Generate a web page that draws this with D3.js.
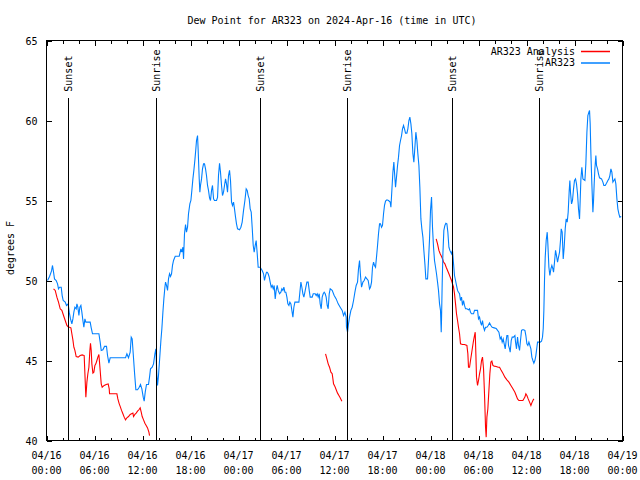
<!DOCTYPE html>
<html><head><meta charset="utf-8">
<script src="https://cdn.jsdelivr.net/npm/d3@7"></script>
<style>
body{margin:0;background:#fff}
svg{display:block}
text{font-family:"DejaVu Sans Mono",monospace;font-size:10px;fill:#000}
</style>
</head><body>
<svg id="c" width="640" height="480"></svg>
<script>
// ---------------- DATA ----------------
const titleText = "Dew Point for AR323 on 2024-Apr-16 (time in UTC)";
const yLabel = "degrees F";
const seriesNames = ["AR323 Analysis", "AR323"];
const seriesColors = ["#ff0000", "#0080ff"];
const startUTC = Date.UTC(2024, 3, 16, 0, 0);
const endHours = 72;
const yTicks = [40, 45, 50, 55, 60, 65];
const sunLabels = ["Sunset", "Sunrise", "Sunset", "Sunrise", "Sunset", "Sunrise"];
const sunHours = [2.7, 13.63, 26.63, 37.53, 50.63, 61.5];

// observed dew point: [hours since 04/16 00:00 UTC, deg F]
const ar323 = [
[0.13,50.0],[0.38,50.25],[0.63,50.6],[0.75,50.94],[0.88,50.52],[1.0,50.1],[1.21,50.0],[1.38,49.79],[1.5,49.48],[1.63,49.58],[1.84,49.58],[1.96,49.06],[2.09,48.75],[2.34,48.65],[2.5,48.44],[2.71,48.54],[2.84,48.02],[3.0,47.6],[3.17,47.29],[3.3,47.6],[3.42,48.02],[3.55,48.33],[3.71,48.23],[3.8,48.54],[3.92,48.33],[4.05,47.81],[4.17,48.33],[4.3,48.44],[4.42,48.02],[4.55,47.5],[4.67,47.08],[4.8,47.6],[4.92,47.4],[5.09,47.4],[5.46,47.4],[5.59,47.04],[5.75,46.67],[6.09,46.67],[6.55,46.67],[6.71,46.15],[6.84,45.63],[7.05,45.67],[7.25,45.88],[7.5,45.88],[7.63,45.31],[7.8,44.83],[7.96,45.17],[8.38,45.17],[9.21,45.17],[9.88,45.17],[10.05,45.42],[10.25,45.17],[10.46,45.52],[10.59,46.46],[10.71,46.35],[10.84,45.42],[11.0,44.27],[11.17,43.17],[11.38,43.17],[11.59,43.33],[11.75,43.5],[11.92,43.23],[12.09,42.71],[12.21,42.46],[12.34,43.02],[12.5,43.5],[12.75,43.5],[12.88,43.96],[13.0,44.48],[13.21,44.58],[13.38,44.79],[13.55,45.42],[13.67,45.73],
[13.8,44.06],[13.88,43.44],[14.0,44.06],[14.13,45.0],[14.3,46.25],[14.42,46.98],[14.55,48.02],[14.67,48.85],[14.8,49.58],[14.88,49.9],[15.0,49.69],[15.13,49.38],[15.25,50.1],[15.38,50.42],[15.5,50.25],[15.63,50.42],[15.75,50.94],[15.88,51.25],[16.09,51.52],[16.59,51.52],[16.8,51.98],[16.92,51.77],[17.05,52.08],[17.13,51.35],[17.25,52.92],[17.38,53.5],[17.5,53.02],[17.63,53.33],[17.75,54.17],[17.92,54.79],[18.05,55.0],[18.17,55.63],[18.3,56.35],[18.42,56.88],[18.55,57.54],[18.67,58.23],[18.75,58.75],[18.88,59.06],[18.96,58.13],[19.09,56.35],[19.17,55.52],[19.25,55.94],[19.38,56.35],[19.5,56.98],[19.63,57.29],[19.75,57.29],[19.88,56.98],[20.0,56.56],[20.13,55.94],[20.25,55.63],[20.38,55.17],[20.5,55.0],[20.63,55.63],[20.75,55.94],[20.88,55.1],[21.0,55.0],[21.25,55.0],[21.38,55.2],[21.5,56.56],[21.63,57.33],[21.75,56.77],[21.88,55.94],[22.0,55.31],[22.13,55.52],[22.25,55.94],[22.38,56.35],[22.5,56.04],[22.63,55.52],[22.75,56.56],[22.88,56.88],[23.0,56.25],[23.13,54.9],[23.25,54.69],[23.38,54.9],[23.5,54.48],[23.63,53.96],[23.75,53.54],[23.88,53.23],[24.13,53.17],[24.3,53.33],[24.46,53.65],[24.63,54.38],[24.8,55.0],[24.96,55.73],[25.09,55.63],[25.21,55.31],[25.34,55.1],[25.46,54.48],[25.59,54.27],[25.71,53.33],[25.84,52.19],[25.96,51.77],[26.09,52.19],[26.21,52.5],[26.34,51.67],[26.46,50.83],[26.71,50.83],[26.96,50.63],[27.13,50.42],[27.25,50.0],[27.38,50.31],[27.5,50.52],
[27.59,50.52],[27.71,50.42],[27.84,50.21],[27.96,49.9],[28.09,49.58],[28.21,49.69],[28.34,49.48],[28.46,49.69],[28.59,48.85],[28.71,49.38],[28.84,49.69],[28.96,49.38],[29.13,49.17],[29.3,49.27],[29.42,49.48],[29.55,49.38],[29.67,49.58],[29.8,49.27],[29.92,49.27],[30.05,48.96],[30.17,48.54],[30.3,48.44],[30.42,48.65],[30.55,48.54],[30.67,48.13],[30.8,47.71],[30.92,48.33],[31.05,48.65],[31.55,48.65],[31.67,49.27],[31.8,49.9],[31.92,49.58],[32.05,49.17],[32.17,48.96],[32.3,49.27],[32.42,49.58],[32.55,49.9],[32.71,49.9],[32.84,49.38],[32.96,48.96],[33.21,48.96],[33.34,49.17],[33.59,49.17],[33.71,49.06],[33.84,49.17],[33.96,48.96],[34.09,49.17],[34.21,48.54],[34.34,48.23],[34.46,48.96],[34.59,49.17],[34.71,49.27],[34.84,49.17],[34.96,48.96],[35.09,48.44],[35.21,48.23],[35.34,49.17],[35.46,49.48],[35.71,49.38],[35.96,49.06],[36.21,48.85],[36.46,48.54],[36.71,48.33],[36.96,48.13],
[37.13,47.81],[37.3,48.02],[37.46,47.71],[37.5,47.08],[37.63,46.77],[37.75,47.29],[37.88,47.71],[38.05,48.13],[38.21,48.33],[38.38,48.75],[38.55,49.27],[38.71,49.69],[38.88,49.9],[39.0,50.73],[39.13,51.25],[39.25,50.31],[39.38,49.58],[39.55,49.9],[39.71,50.0],[39.88,50.21],[40.05,50.1],[40.21,50.0],[40.38,49.48],[40.5,49.58],[40.63,49.9],[40.75,50.83],[40.88,51.15],[41.0,50.94],[41.13,50.83],[41.25,51.46],[41.38,52.19],[41.5,52.92],[41.63,53.54],[41.75,53.54],[41.88,53.33],[42.0,53.44],[42.13,54.17],[42.25,54.69],[42.38,54.96],[42.55,55.04],[42.75,55.0],[42.96,54.9],[43.05,54.58],[43.17,55.63],[43.3,56.77],[43.42,57.4],[43.5,56.77],[43.63,55.83],[43.75,56.46],[43.88,57.19],[44.0,57.71],[44.13,58.44],[44.25,58.75],[44.38,59.06],[44.5,59.48],[44.63,59.69],[44.75,59.48],[44.88,59.21],[45.05,59.21],[45.17,59.48],[45.3,60.0],[45.42,60.21],[45.55,59.79],[45.67,59.17],[45.8,57.92],[45.92,57.4],[46.05,58.33],[46.17,59.27],[46.3,58.75],[46.42,57.92],[46.55,57.19],[46.67,55.83],[46.8,53.85],[46.92,53.23],[47.05,52.71],[47.17,51.88],[47.3,51.04],[47.42,50.1],[47.63,50.1],[47.75,51.25],[47.88,52.6],[48.0,54.38],[48.13,55.21],[48.25,53.33],[48.38,52.08],[48.5,51.25],[48.63,50.83],[48.75,50.42],[48.88,49.9],[49.0,49.38],[49.13,48.54],[49.25,48.13],[49.34,46.77],[49.38,47.6],[49.46,49.79],[49.55,51.67],[49.67,53.13],[49.8,53.44],[49.92,53.58],[50.05,53.54],[50.17,53.02],[50.3,52.08],[50.42,51.88],[50.63,51.67],
[50.67,51.77],[50.75,51.88],[50.88,51.04],[51.0,50.31],[51.13,50.0],[51.25,49.69],[51.38,49.38],[51.5,49.27],[51.63,49.17],[51.75,48.75],[51.88,48.96],[52.0,48.44],[52.13,48.75],[52.25,48.44],[52.38,48.23],[52.55,48.23],[52.75,48.17],[52.88,48.23],[53.0,48.02],[53.13,47.92],[53.38,47.92],[53.5,48.13],[53.71,48.13],[53.88,48.13],[54.0,47.6],[54.13,47.71],[54.25,47.4],[54.38,47.19],[54.5,47.5],[54.63,47.08],[54.75,46.88],[54.88,47.08],[55.05,47.08],[55.21,47.19],[55.38,47.35],[55.55,47.19],[55.71,47.08],[55.96,47.04],[56.21,47.0],[56.38,46.88],[56.55,46.77],[56.71,46.35],[56.84,46.46],[56.96,46.15],[57.09,46.35],[57.21,46.04],[57.34,45.73],[57.46,46.25],[57.55,46.56],[57.67,46.56],[57.75,45.94],[57.88,45.73],[57.96,45.52],[58.09,46.25],[58.21,46.46],[58.38,46.46],[58.55,46.56],[58.63,46.15],[58.75,45.73],[58.88,46.46],[59.0,45.94],[59.13,45.63],[59.25,46.25],[59.38,46.88],[59.5,46.92],[59.63,46.92],[59.8,46.88],[59.92,46.56],[60.05,46.04],[60.17,45.94],[60.3,46.15],[60.42,45.94],[60.55,45.73],[60.67,45.21],[60.8,45.0],[60.92,44.83],[61.05,45.0],[61.17,45.31],[61.3,45.83],[61.38,46.15],[61.71,46.15],[61.88,46.21],
[62.0,46.46],[62.09,46.98],[62.17,48.13],[62.25,50.0],[62.34,51.46],[62.46,52.5],[62.59,53.02],[62.67,52.29],[62.8,50.83],[62.92,50.31],[63.05,50.73],[63.17,50.94],[63.3,50.73],[63.38,50.52],[63.5,51.15],[63.63,51.88],[63.75,51.56],[63.88,51.15],[64.0,51.46],[64.13,51.77],[64.25,52.5],[64.34,53.23],[64.46,53.02],[64.59,51.35],[64.71,52.08],[64.84,53.23],[64.96,53.85],[65.09,53.65],[65.21,54.27],[65.34,55.63],[65.42,56.25],[65.5,55.52],[65.63,54.79],[65.75,55.0],[65.88,55.73],[66.0,56.25],[66.13,56.35],[66.25,56.04],[66.38,55.42],[66.5,54.48],[66.63,53.85],[66.71,55.0],[66.8,56.35],[66.92,57.08],[67.05,56.35],[67.3,56.25],[67.42,57.29],[67.55,59.27],[67.67,60.31],[67.8,60.52],[67.88,60.63],[67.96,59.79],[68.05,57.92],[68.17,56.04],[68.3,54.27],[68.38,55.0],[68.46,56.04],[68.55,56.98],[68.67,57.81],[68.75,57.19],[68.88,56.98],[69.0,56.67],[69.13,56.42],[69.38,56.35],[69.55,56.15],[69.67,55.94],[69.84,55.94],[70.0,56.08],[70.17,56.25],[70.3,56.35],[70.42,56.56],[70.55,56.98],[70.67,56.77],[70.8,56.15],[70.92,56.25],[71.05,56.35],[71.17,56.04],[71.3,55.1],[71.42,54.48],[71.55,54.17],[71.67,53.96],[71.84,54.0]
];

// analysis dew point, three segments
const analysis1 = [
[0.88,49.48],[1.09,49.38],[1.3,48.96],[1.5,48.65],[1.71,48.23],[1.92,48.13],[2.13,47.81],[2.34,47.5],[2.55,47.19],[2.75,47.08],[2.88,47.08],[3.05,47.04],[3.17,46.67],[3.3,46.29],[3.42,45.83],[3.55,45.63],[3.71,45.25],[3.96,45.21],[4.21,45.31],[4.46,45.35],[4.71,45.31],[4.8,44.17],[4.92,42.71],[5.05,43.65],[5.17,44.17],[5.3,44.58],[5.42,45.63],[5.5,46.08],[5.59,45.63],[5.67,44.79],[5.8,44.21],[5.92,44.27],[6.05,44.69],[6.17,44.79],[6.3,45.0],[6.42,45.21],[6.55,45.38],[6.71,44.38],[6.84,43.54],[6.96,43.33],[7.21,43.44],[7.46,43.5],[7.71,43.54],[7.84,43.23],[7.88,42.92],[8.17,42.92],[8.46,42.92],[8.8,42.92],[8.92,42.6],[9.09,42.29],[9.21,42.13],[9.38,41.88],[9.55,41.67],[9.71,41.46],[9.88,41.29],[10.05,41.42],[10.25,41.5],[10.46,41.63],[10.63,41.67],[10.8,41.71],[10.88,41.5],[11.05,41.63],[11.21,41.71],[11.38,41.83],[11.55,41.92],[11.71,42.04],[11.84,41.77],[11.96,41.5],[12.13,41.29],[12.3,41.08],[12.46,40.94],[12.63,40.79],[12.8,40.52],[12.88,40.31]
];
const analysis2 = [
[34.88,45.42],[35.05,45.1],[35.21,44.79],[35.38,44.58],[35.55,44.27],[35.71,44.17],[35.8,43.85],[35.88,43.54],[36.05,43.38],[36.21,43.17],[36.38,42.96],[36.55,42.81],[36.71,42.67],[36.92,42.46]
];
const analysis3 = [
[48.71,52.6],[48.88,52.29],[49.05,51.88],[49.21,51.67],[49.38,51.5],[49.55,51.29],[49.63,51.15],[49.8,51.04],[49.96,50.83],[50.13,50.63],[50.3,50.42],[50.46,50.21],[50.63,50.0],[50.75,49.79],[50.88,49.58],[51.0,49.17],[51.13,48.54],[51.25,47.92],[51.38,47.5],[51.5,47.08],[51.63,46.67],[51.75,46.04],[52.0,46.0],[52.25,46.0],[52.55,45.94],[52.67,45.42],[52.75,44.58],[52.88,44.58],[53.0,45.0],[53.13,45.42],[53.25,45.83],[53.38,46.25],[53.5,46.56],[53.59,46.77],[53.67,45.42],[53.75,43.96],[53.88,43.44],[54.0,43.75],[54.13,44.17],[54.25,44.48],[54.38,45.0],[54.5,45.21],[54.63,44.48],[54.75,42.92],[54.88,40.83],[54.96,40.21],[55.05,41.46],[55.17,41.98],[55.3,43.13],[55.42,44.17],[55.55,44.9],[55.67,44.96],[55.8,44.69],[55.96,44.65],[56.21,44.63],[56.46,44.58],[56.63,44.58],[56.8,44.42],[57.05,44.21],[57.3,43.96],[57.55,43.79],[57.8,43.65],[58.05,43.44],[58.3,43.23],[58.55,43.02],[58.71,42.81],[58.88,42.6],[59.05,42.5],[59.3,42.5],[59.55,42.5],[59.8,42.71],[59.92,42.92],[60.05,42.81],[60.21,42.6],[60.38,42.4],[60.55,42.19],[60.67,42.35],[60.8,42.5],[60.92,42.6]
];

// ---------------- CHART ----------------
const svg = d3.select("#c");
const toDate = h => new Date(startUTC + h * 3600e3);
const x = d3.scaleUtc().domain([toDate(0), toDate(endHours)]).range([46.5, 622.5]);
const y = d3.scaleLinear().domain([40, 65]).range([440.5, 40.5]);

const major = x.ticks(d3.utcHour.every(6));
const minor = x.ticks(d3.utcHour.every(2));
const fmtD = d3.utcFormat("%m/%d"), fmtT = d3.utcFormat("%H:%M");

function clean(g){ g.select(".domain").remove(); g.selectAll("line").attr("shape-rendering","crispEdges"); }

svg.append("g").attr("transform","translate(0,440.5)")
  .call(d3.axisBottom(x).tickValues(minor).tickSize(-3).tickFormat("")).call(clean);
svg.append("g").attr("transform","translate(0,440.5)")
  .call(d3.axisBottom(x).tickValues(major).tickSize(-5).tickFormat("")).call(clean);
svg.append("g").attr("transform","translate(0,40.5)")
  .call(d3.axisTop(x).tickValues(minor).tickSize(-3).tickFormat("")).call(clean);
svg.append("g").attr("transform","translate(0,40.5)")
  .call(d3.axisTop(x).tickValues(major).tickSize(-5).tickFormat("")).call(clean);
svg.append("g").attr("transform","translate(46.5,0)")
  .call(d3.axisLeft(y).tickValues(yTicks).tickSize(-5).tickPadding(9).tickFormat(d3.format("d"))).call(clean)
  .selectAll("text").attr("dy", null).attr("dominant-baseline","central");
svg.append("g").attr("transform","translate(622.5,0)")
  .call(d3.axisRight(y).tickValues(yTicks).tickSize(-5).tickFormat("")).call(clean);

// x tick labels (two lines)
const xl = svg.append("g").selectAll("text").data(major).join("text")
  .attr("text-anchor","middle").attr("x", d => x(d));
xl.append("tspan").attr("x", d => x(d)).attr("y", 455).attr("dominant-baseline","central").text(d => fmtD(d));
xl.append("tspan").attr("x", d => x(d)).attr("y", 470).attr("dominant-baseline","central").text(d => fmtT(d));

// frame
svg.append("rect").attr("x", x.range()[0]).attr("y", y.range()[1])
  .attr("width", x.range()[1]-x.range()[0]).attr("height", y.range()[0]-y.range()[1])
  .attr("fill","none").attr("stroke","#000").attr("shape-rendering","crispEdges");

// data lines
const line = d3.line().x(d => x(toDate(d[0]))).y(d => y(d[1]));
[analysis1, analysis2, analysis3].forEach(seg => {
  svg.append("path").datum(seg).attr("d", line).attr("fill","none")
    .attr("stroke", seriesColors[0]).attr("stroke-width",1.1);
});
svg.append("path").datum(ar323).attr("d", line).attr("fill","none")
  .attr("stroke", seriesColors[1]).attr("stroke-width",1.1);

// sunrise / sunset markers
const sun = svg.append("g").selectAll("g").data(sunHours).join("g");
sun.append("line")
  .attr("x1", d => Math.round(x(toDate(d))) + 0.5).attr("x2", d => Math.round(x(toDate(d))) + 0.5)
  .attr("y1", y(61.4)).attr("y2", y(40))
  .attr("stroke","#000").attr("shape-rendering","crispEdges");
sun.append("text")
  .attr("transform", d => `translate(${Math.round(x(toDate(d))) + 0.5},${y(61.8)}) rotate(-90)`)
  .attr("text-anchor","start").attr("dominant-baseline","central")
  .text((d,i) => sunLabels[i]);

// legend
const legendRows = seriesNames.map((name, i) => ({name, color: seriesColors[i], row: i}));
const lg = svg.append("g").selectAll("g").data(legendRows).join("g")
  .attr("transform", d => `translate(0,${51 + d.row*11.5})`);
lg.append("text").attr("x", 575).attr("text-anchor","end").attr("dominant-baseline","central").text(d => d.name);
lg.append("line").attr("x1", 581).attr("x2", 610).attr("y1", 0.5).attr("y2", 0.5)
  .attr("stroke", d => d.color).attr("stroke-width", 1.5);

// title and y label
svg.append("text").attr("x", 332).attr("y", 20).attr("text-anchor","middle")
  .attr("dominant-baseline","central").text(titleText);
svg.append("text").attr("transform","translate(10,248) rotate(-90)").attr("text-anchor","middle")
  .attr("dominant-baseline","central").text(yLabel);
</script>
</body></html>
